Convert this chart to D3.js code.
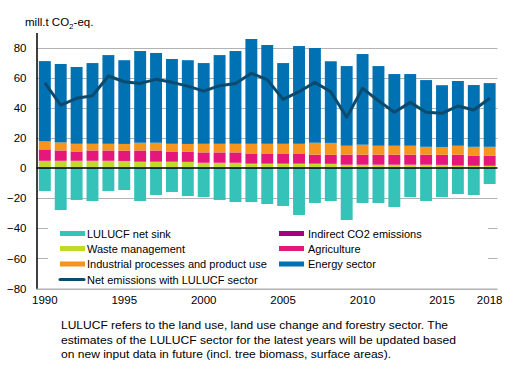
<!DOCTYPE html>
<html><head><meta charset="utf-8">
<script src="https://cdn.jsdelivr.net/npm/d3@7"></script>
<style>body{margin:0;background:#fff}svg{display:block;font-family:"Liberation Sans",Arial,sans-serif}</style>
</head><body><svg id="c" width="516" height="391"></svg>
<script>
const years = d3.range(1990, 2019);
const xTickLabels = [1990, 1995, 2000, 2005, 2010, 2015, 2018];
const yTicks = [-80, -60, -40, -20, 0, 20, 40, 60, 80];
const lulucf = [-15.3,-27.9,-21.2,-21.9,-15.3,-14.6,-21.9,-17.9,-15.9,-18.6,-19.3,-21.2,-22.6,-22.6,-23.9,-25.2,-31.2,-23.2,-21.9,-34.5,-23.2,-23.2,-25.9,-19.3,-21.9,-19.3,-17.3,-17.9,-10.6];
const waste = [4.8,4.8,4.8,4.8,4.8,4.7,4.2,4.2,4.2,4.1,3.5,3.5,3.5,2.9,2.9,2.9,2.9,2.9,2.8,2.2,2.2,2.2,2.2,2.2,2.2,2.1,1.6,1.5,1.5];
const agriculture = [7.4,6.7,6.0,6.7,6.7,6.7,7.3,7.3,6.6,6.6,6.7,6.7,6.7,6.6,6.6,6.6,6.6,5.9,5.9,6.6,6.6,6.6,6.6,6.6,6.6,6.6,7.2,6.7,6.7];
const indirect = [0.2,0.2,0.2,0.2,0.2,0.2,0.2,0.2,0.2,0.2,0.2,0.2,0.2,0.2,0.2,0.2,0.2,0.1,0.1,0.1,0.1,0.1,0.1,0.1,0.1,0.1,0.1,0.1,0.1];
const industrial = [5.3,5.3,5.1,4.4,4.4,4.4,5.1,5.1,5.1,5.1,5.7,5.7,5.7,6.4,6.4,6.4,6.4,7.9,7.9,5.9,6.6,5.9,5.9,5.9,5.2,5.2,5.9,5.8,5.8];
const energy = [53.3,52.1,51.0,53.6,58.9,55.6,60.9,59.6,56.3,55.6,53.6,58.9,61.6,69.6,65.6,53.6,64.9,62.9,54.2,52.9,60.2,52.9,47.6,47.6,44.3,41.0,43.0,41.0,42.3];
const netEmissions = [56.6,41.8,46.3,48.0,61.1,57.3,56.2,58.9,56.9,54.4,51.1,54.7,56.2,62.9,58.7,45.6,50.7,56.9,50.7,33.7,52.9,44.7,37.0,43.6,37.0,36.3,41.2,38.5,46.3];

const posSeries = [
  {name:"Waste management", values:waste, color:"#c1d82f"},
  {name:"Agriculture", values:agriculture, color:"#e5177b"},
  {name:"Indirect CO2 emissions", values:indirect, color:"#a2027f"},
  {name:"Industrial processes and product use", values:industrial, color:"#f7941e"},
  {name:"Energy sector", values:energy, color:"#0071b3"}
];
const lulucfColor = "#35c2b9", lineColor = "#0c4a6e";

const svg = d3.select("#c");
const x = d3.scaleBand().domain(years).range([36.5, 498]).paddingInner(0.25).paddingOuter(0.15);
const y = d3.scaleLinear().domain([-80, 90]).range([288.5, 32.5]);

// gridlines
svg.append("g").selectAll("line").data(yTicks.filter(d => d !== 0)).join("line")
  .attr("x1", 36.5).attr("x2", 497.5).attr("y1", d => Math.round(y(d)) + 0.5).attr("y2", d => Math.round(y(d)) + 0.5)
  .attr("stroke", "#b3b3b3").attr("stroke-width", 1);

// LULUCF bars
svg.append("g").selectAll("rect").data(years).join("rect")
  .attr("x", d => x(d)).attr("width", x.bandwidth())
  .attr("y", y(0)).attr("height", (d, i) => y(lulucf[i]) - y(0))
  .attr("fill", lulucfColor);

// positive stacks
const stackData = years.map((yr, i) => { const o = {year: yr}; posSeries.forEach(s => o[s.name] = s.values[i]); return o; });
const stack = d3.stack().keys(posSeries.map(s => s.name))(stackData);
svg.append("g").selectAll("g").data(stack).join("g")
  .attr("fill", (d, i) => posSeries[i].color)
  .selectAll("rect").data(d => d).join("rect")
  .attr("x", d => x(d.data.year)).attr("width", x.bandwidth())
  .attr("y", d => y(d[1])).attr("height", d => y(d[0]) - y(d[1]));

// net emissions line
svg.append("path").datum(netEmissions)
  .attr("d", d3.line().x((d, i) => x(years[i]) + x.bandwidth() / 2).y(d => y(d)))
  .attr("fill", "none").attr("stroke", lineColor).attr("stroke-width", 3).attr("stroke-linejoin", "round");

// zero line
svg.append("line").attr("x1", 36.5).attr("x2", 497.5).attr("y1", y(0)).attr("y2", y(0)).attr("stroke", "#000").attr("stroke-width", 1.5);

// y axis
const yAxis = svg.append("g").attr("transform", "translate(36.5,0)").call(d3.axisLeft(y).tickValues(yTicks).tickSize(0).tickPadding(10));
yAxis.select(".domain").attr("stroke", "#000").attr("stroke-width", 1.5);
yAxis.selectAll("text").attr("font-size", 11.5).attr("fill", "#000").attr("font-family", "Liberation Sans, Arial, sans-serif");

// x labels
svg.append("g").selectAll("text").data(xTickLabels).join("text")
  .attr("x", d => x(d) + x.bandwidth() / 2).attr("y", 304).attr("text-anchor", "middle")
  .attr("font-size", 11.5).text(d => d);

// title
const t = svg.append("text").attr("x", 25).attr("y", 26).attr("font-size", 11.5);
t.append("tspan").text("mill.t CO");
t.append("tspan").attr("font-size", 8).attr("dy", 3).text("2");
t.append("tspan").attr("dy", -3).text("-eq.");

// legend
const lg = svg.append("g");
lg.append("rect").attr("x", 48).attr("y", 223).attr("width", 440).attr("height", 63).attr("fill", "#fff");
const leftItems = [
  {name:"LULUCF net sink", color:lulucfColor},
  {name:"Waste management", color:posSeries[0].color},
  {name:"Industrial processes and product use", color:posSeries[3].color},
  {name:"Net emissions with LULUCF sector", color:lineColor, line:true}
];
const rightItems = [
  {name:"Indirect CO2 emissions", color:posSeries[2].color},
  {name:"Agriculture", color:posSeries[1].color},
  {name:"Energy sector", color:posSeries[4].color}
];
const rowY = [233.5, 248.5, 264, 279.5];
function drawLegend(items, sx, tx) {
  items.forEach((it, i) => {
    if (it.line) lg.append("line").attr("x1", sx).attr("x2", sx + 24).attr("y1", rowY[i]).attr("y2", rowY[i]).attr("stroke", it.color).attr("stroke-width", 3).attr("stroke-linecap", "round");
    else lg.append("rect").attr("x", sx).attr("y", rowY[i] - 2.5).attr("width", 25).attr("height", 5).attr("fill", it.color);
    lg.append("text").attr("x", tx).attr("y", rowY[i] + 4).attr("font-size", 11).text(it.name);
  });
}
drawLegend(leftItems, 60, 87);
drawLegend(rightItems, 279, 308);

// bottom axis line
svg.append("line").attr("x1", 36.5).attr("x2", 497.5).attr("y1", 289).attr("y2", 289).attr("stroke", "#b3b3b3");

// footnote
const notes = [
  ["LULUCF refers to the land use, land use change and forestry sector. The", 387],
  ["estimates of the LULUCF sector for the latest years will be updated based", 395],
  ["on new input data in future (incl. tree biomass, surface areas).", 330]
];
svg.append("g").selectAll("text").data(notes).join("text")
  .attr("x", 61).attr("y", (d, i) => 329 + i * 14.7).attr("font-size", 11)
  .attr("textLength", d => d[1]).attr("lengthAdjust", "spacingAndGlyphs").text(d => d[0]);
</script></body></html>
